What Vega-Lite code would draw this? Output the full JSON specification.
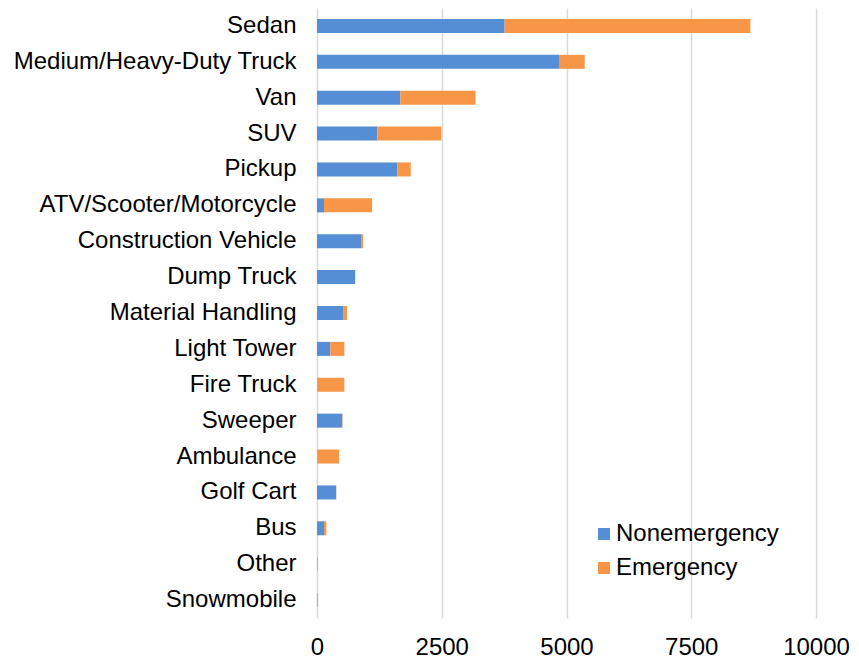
{
  "$schema": "https://vega.github.io/schema/vega-lite/v6.json",
  "width": 499,
  "height": 610,
  "autosize": {"type": "none"},
  "padding": {"left": 317, "top": 8, "right": 43, "bottom": 40},
  "background": "white",
  "config": {
    "view": {"stroke": null},
    "font": "Liberation Sans"
  },
  "data": {
    "values": [
      {"type": "Sedan", "status": "Nonemergency", "k": 0, "count": 3760},
      {"type": "Sedan", "status": "Emergency", "k": 1, "count": 4925},
      {"type": "Medium/Heavy-Duty Truck", "status": "Nonemergency", "k": 0, "count": 4850},
      {"type": "Medium/Heavy-Duty Truck", "status": "Emergency", "k": 1, "count": 515},
      {"type": "Van", "status": "Nonemergency", "k": 0, "count": 1672},
      {"type": "Van", "status": "Emergency", "k": 1, "count": 1505},
      {"type": "SUV", "status": "Nonemergency", "k": 0, "count": 1210},
      {"type": "SUV", "status": "Emergency", "k": 1, "count": 1285},
      {"type": "Pickup", "status": "Nonemergency", "k": 0, "count": 1612},
      {"type": "Pickup", "status": "Emergency", "k": 1, "count": 267},
      {"type": "ATV/Scooter/Motorcycle", "status": "Nonemergency", "k": 0, "count": 140},
      {"type": "ATV/Scooter/Motorcycle", "status": "Emergency", "k": 1, "count": 964},
      {"type": "Construction Vehicle", "status": "Nonemergency", "k": 0, "count": 895},
      {"type": "Construction Vehicle", "status": "Emergency", "k": 1, "count": 28},
      {"type": "Dump Truck", "status": "Nonemergency", "k": 0, "count": 763},
      {"type": "Dump Truck", "status": "Emergency", "k": 1, "count": 4},
      {"type": "Material Handling", "status": "Nonemergency", "k": 0, "count": 522},
      {"type": "Material Handling", "status": "Emergency", "k": 1, "count": 80},
      {"type": "Light Tower", "status": "Nonemergency", "k": 0, "count": 267},
      {"type": "Light Tower", "status": "Emergency", "k": 1, "count": 281},
      {"type": "Fire Truck", "status": "Nonemergency", "k": 0, "count": 4},
      {"type": "Fire Truck", "status": "Emergency", "k": 1, "count": 544},
      {"type": "Sweeper", "status": "Nonemergency", "k": 0, "count": 505},
      {"type": "Sweeper", "status": "Emergency", "k": 1, "count": 9},
      {"type": "Ambulance", "status": "Nonemergency", "k": 0, "count": 2},
      {"type": "Ambulance", "status": "Emergency", "k": 1, "count": 439},
      {"type": "Golf Cart", "status": "Nonemergency", "k": 0, "count": 385},
      {"type": "Golf Cart", "status": "Emergency", "k": 1, "count": 2},
      {"type": "Bus", "status": "Nonemergency", "k": 0, "count": 140},
      {"type": "Bus", "status": "Emergency", "k": 1, "count": 47},
      {"type": "Other", "status": "Nonemergency", "k": 0, "count": 5},
      {"type": "Other", "status": "Emergency", "k": 1, "count": 12},
      {"type": "Snowmobile", "status": "Nonemergency", "k": 0, "count": 10},
      {"type": "Snowmobile", "status": "Emergency", "k": 1, "count": 0}
    ]
  },
  "mark": {"type": "bar"},
  "encoding": {
    "y": {
      "field": "type",
      "type": "nominal",
      "sort": null,
      "scale": {"paddingInner": 0.61, "paddingOuter": 0.305},
      "axis": {
        "title": null,
        "domain": false,
        "ticks": false,
        "labelFontSize": 24,
        "labelColor": "#000000",
        "labelPadding": 21,
        "labelLimit": 400
      }
    },
    "x": {
      "field": "count",
      "type": "quantitative",
      "stack": "zero",
      "scale": {"domain": [0, 10000], "nice": false},
      "axis": {
        "title": null,
        "values": [0, 2500, 5000, 7500, 10000],
        "format": "d",
        "domain": false,
        "ticks": false,
        "grid": true,
        "gridColor": "#d9d9d9",
        "gridWidth": 1.5,
        "gridOpacity": 1,
        "labelFontSize": 24,
        "labelColor": "#000000",
        "labelPadding": 17,
        "labelFlush": false,
        "labelOverlap": false
      }
    },
    "color": {
      "field": "status",
      "type": "nominal",
      "scale": {"domain": ["Nonemergency", "Emergency"], "range": ["#558ed5", "#f79646"]},
      "legend": {
        "title": null,
        "orient": "none",
        "legendX": 275,
        "legendY": 514,
        "symbolType": "square",
        "symbolSize": 144,
        "symbolStrokeWidth": 0,
        "symbolOpacity": 1,
        "labelFontSize": 24,
        "labelColor": "#000000",
        "labelOffset": 0,
        "labelLimit": 300,
        "rowPadding": 10,
        "padding": 0
      }
    },
    "order": {"field": "k", "type": "quantitative"}
  }
}
